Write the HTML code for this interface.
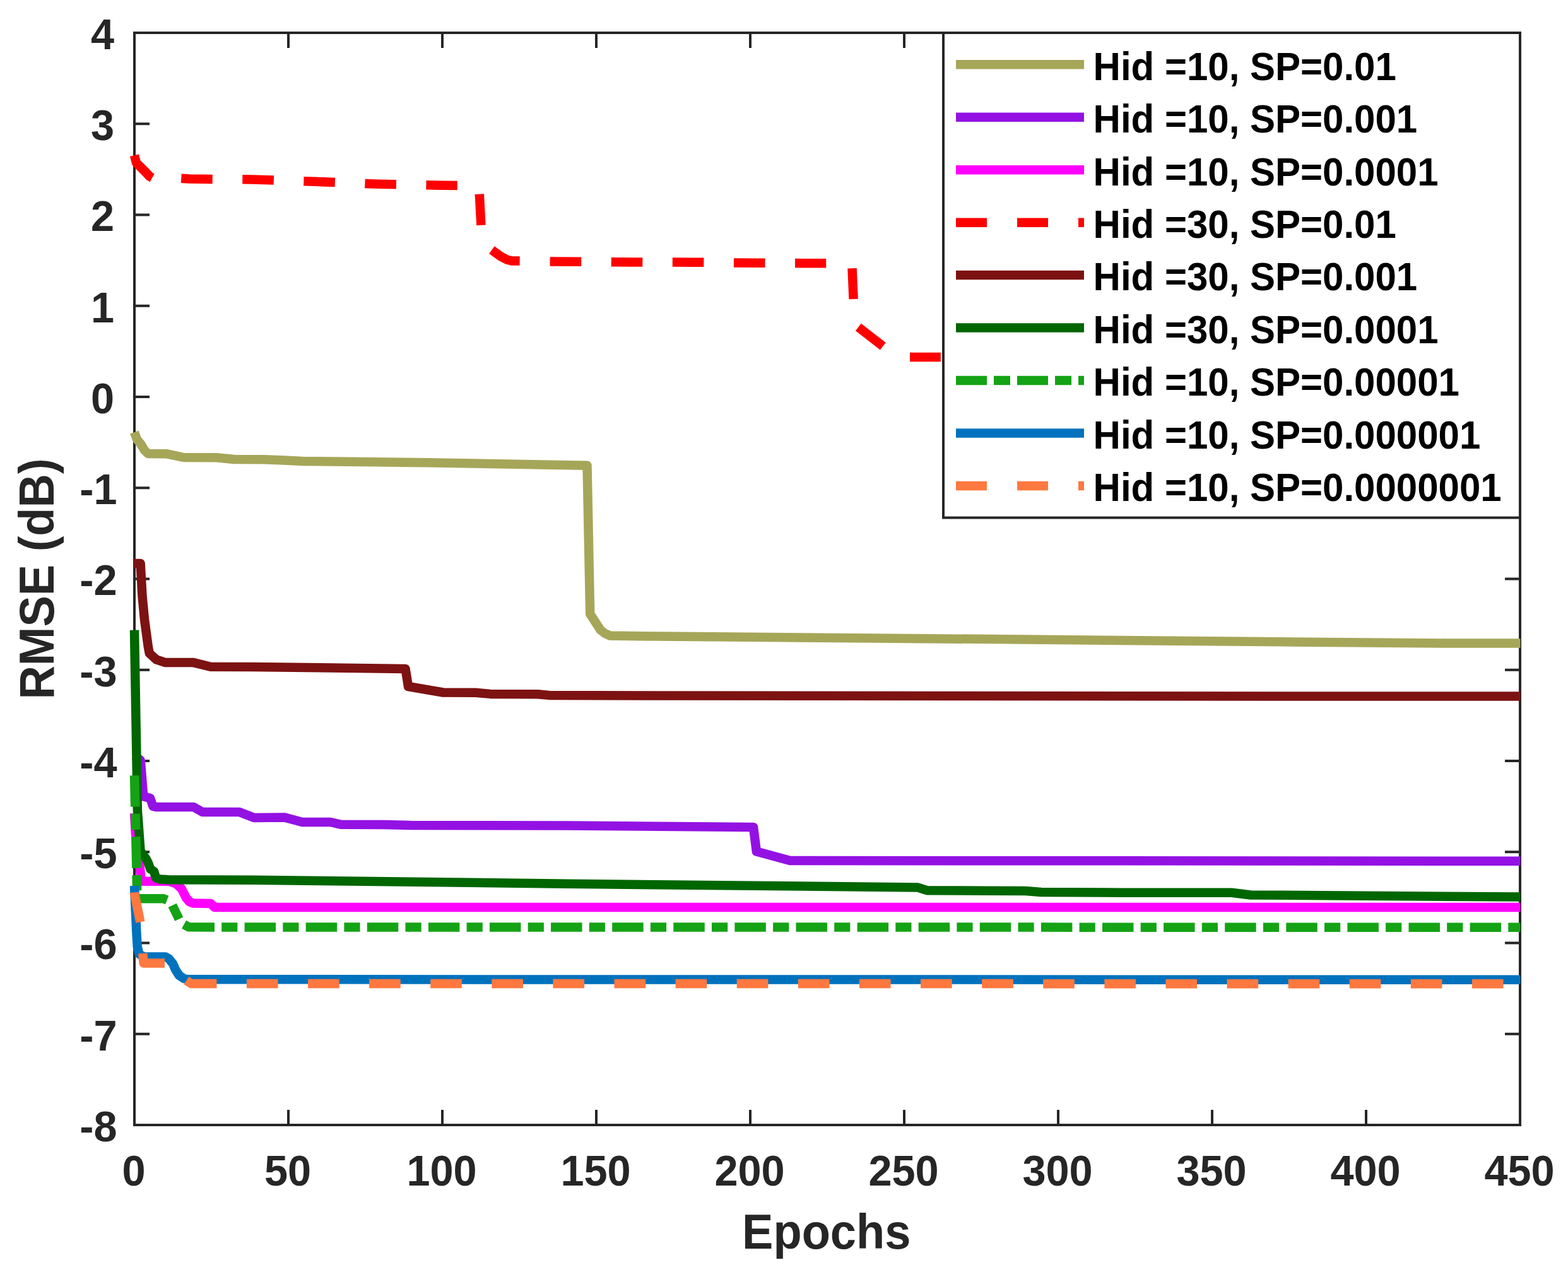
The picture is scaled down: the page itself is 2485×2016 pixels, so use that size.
<!DOCTYPE html>
<html lang="en"><head><meta charset="utf-8"><title>RMSE vs Epochs</title>
<style>html,body{margin:0;padding:0;background:#fff}svg{display:block}text{font-family:"Liberation Sans",sans-serif;font-weight:bold}</style></head><body>
<svg width="2485" height="2016" viewBox="0 0 2485 2016">
<rect x="0" y="0" width="2485" height="2016" fill="#fff"/>
<g fill="none" stroke="#262626" stroke-width="4" stroke-linecap="butt" stroke-linejoin="miter">
<rect x="213" y="52" width="2196" height="1731"/>
<path d="M457 1783V1759M457 52V76M701 1783V1759M701 52V76M945 1783V1759M945 52V76M1189 1783V1759M1189 52V76M1433 1783V1759M1433 52V76M1677 1783V1759M1677 52V76M1921 1783V1759M1921 52V76M2165 1783V1759M2165 52V76M213 1638.75H237M2409 1638.75H2385M213 1494.5H237M2409 1494.5H2385M213 1350.25H237M2409 1350.25H2385M213 1206H237M2409 1206H2385M213 1061.75H237M2409 1061.75H2385M213 917.5H237M2409 917.5H2385M213 773.25H237M2409 773.25H2385M213 629H237M2409 629H2385M213 484.75H237M2409 484.75H2385M213 340.5H237M2409 340.5H2385M213 196.25H237M2409 196.25H2385"/>
</g>
<g fill="none" stroke-width="14.5" stroke-linejoin="round" stroke-linecap="butt">
<g stroke="#A6A659">
<path d="M212.9 685 L216.9 696.1 L223.9 704.8 L228.8 713.4 L234.4 718.9 L264.5 719.3 L291 725 L343 725.3 L371 728 L418 728.3 L450 729.5 L480 731 L680 733.3 L930.5 737.7 L935.2 973 L951.5 998.2 L958 1003.5 L966.3 1007.4 L1000 1008 L1500 1012.4 L2050 1017.4 L2290 1019.4 L2409.5 1019.5"/>
</g>
<g stroke="#9312E3">
<path d="M213 1198 L222.7 1205 L226.8 1256 L228 1262.5 L238 1265 L242.5 1278 L247 1279 L306.8 1279 L320.8 1287 L379.3 1287 L402.6 1296 L451 1295.6 L479 1303 L524 1303 L540 1306.8 L610 1307 L650 1308 L900 1308.5 L1194 1311 L1198.9 1349.5 L1252 1364 L2409.5 1364.8"/>
</g>
<g stroke="#FF00FF">
<path d="M213 1289 L214.8 1320 L218 1350 L222.3 1380 L223.8 1396.8 L268 1396.8 L278 1400 L284 1405 L288 1409 L295 1423 L300 1429 L306 1431.5 L334 1432 L340 1438 L2409.5 1438"/>
</g>
<g stroke="#FF0000">
<path d="M212.95 246.2 L216 258 L224 266 L232 274 L237 279.5 L241.2 281.9"/>
<path stroke-dasharray="49.6 47.5" d="M287.2 282.8 L300 283.6 L400 284.5 L500 287.8 L600 291.8 L700 293.7 L724.8 293.9"/>
<path d="M759.8 307.6 L762.4 356.9"/>
<path d="M779.4 396.2 L793 406 L804 411.8 L811 413.4 L823.7 413.6"/>
<path stroke-dasharray="49.6 47.5" d="M871.6 414.5 L1000 415.4 L1100 415.7 L1200 416.8 L1300 417.3 L1309.2 417.3"/>
<path d="M1350.5 425.2 L1352.6 474"/>
<path d="M1360.3 518.5 L1399.3 548.8"/>
<path d="M1442 565.9 L1490.9 565.9"/>
</g>
<g stroke="#7D1212">
<path d="M212.2 893 L222.6 893 L225.5 944.9 L229 981.8 L234.7 1024.4 L236.7 1035.3 L247.8 1045.4 L261.3 1049.9 L306.8 1050.1 L333.7 1056.8 L400 1057 L642.5 1059.9 L647 1088 L702.2 1097.5 L754 1097.8 L777 1099.9 L852 1100.2 L870 1101.9 L1020 1102.4 L1500 1103.1 L2409.5 1103.6"/>
</g>
<g stroke="#006600">
<path d="M213 998.7 L217.9 1285 L222.6 1349 L231.5 1361 L235 1368 L238.5 1377.5 L244 1381 L247 1391 L253 1393.5 L267 1394.3 L400 1394.7 L900 1400.7 L1454 1406.4 L1469 1411.2 L1560 1411.8 L1625 1412 L1650 1414 L1750 1414.6 L1952 1414.8 L1982 1418.5 L2409.5 1421.5"/>
</g>
<g stroke="#14A314">
<path d="M213 1229 L214.2 1278.6"/>
<path d="M214.4 1289.7 L215 1314.9"/>
<path d="M215.2 1326 L216.4 1375.8"/>
<path d="M216.6 1387 L217.1 1411.4"/>
<path d="M217.3 1422.9 L217.6 1424.3 L259 1424.3 L264.7 1426.5"/>
<path d="M273.2 1434.8 L283.7 1456.7"/>
<path stroke-dasharray="49.5 11.2 25.2 11.2" d="M291.6 1465.1 L298.9 1469.3 L400 1469.5 L2409.5 1469.7"/>
</g>
<g stroke="#0072BD">
<path d="M213 1404 L216.3 1477 L217.7 1500 L220.4 1512 L228 1516.4 L262.4 1516.4 L267.7 1519.5 L274.1 1527.6 L278.2 1537 L284 1546 L291.6 1551 L297 1552.3 L2409.5 1552.8"/>
</g>
<g stroke="#FF783F">
<path d="M213.1 1414.3 L213.4 1418 L222.4 1461.4"/>
<path d="M226.3 1511 L227.6 1526.5 L261 1526.5"/>
<path stroke-dasharray="49.6 47.5" d="M295.4 1553.9 L303 1559 L2409.5 1559.2"/>
</g>
</g>
<rect x="1495" y="52" width="914" height="768.5" fill="#fff" stroke="#262626" stroke-width="4"/>
<g fill="none" stroke-width="14.5">
<path stroke="#A6A659" d="M1515 102.3H1718"/>
<path stroke="#9312E3" d="M1515 185.75H1718"/>
<path stroke="#FF00FF" d="M1515 269.2H1718"/>
<path stroke="#FF0000" stroke-dasharray="49 48" d="M1515 352.65H1718"/>
<path stroke="#7D1212" d="M1515 436.1H1718"/>
<path stroke="#006600" d="M1515 519.55H1718"/>
<path stroke="#14A314" stroke-dasharray="49 11 26 11" d="M1515 603H1718"/>
<path stroke="#0072BD" d="M1515 686.45H1718"/>
<path stroke="#FF783F" stroke-dasharray="49 48" d="M1515 769.9H1718"/>
</g>
<g font-size="60px" fill="#000">
<text transform="translate(1732.6 126.6) scale(1 1.04)" xml:space="preserve">Hid =10, SP=0.01</text>
<text transform="translate(1732.6 210.05) scale(1 1.04)" xml:space="preserve">Hid =10, SP=0.001</text>
<text transform="translate(1732.6 293.5) scale(1 1.04)" xml:space="preserve">Hid =10, SP=0.0001</text>
<text transform="translate(1732.6 376.95) scale(1 1.04)" xml:space="preserve">Hid =30, SP=0.01</text>
<text transform="translate(1732.6 460.4) scale(1 1.04)" xml:space="preserve">Hid =30, SP=0.001</text>
<text transform="translate(1732.6 543.85) scale(1 1.04)" xml:space="preserve">Hid =30, SP=0.0001</text>
<text transform="translate(1732.6 627.3) scale(1 1.04)" xml:space="preserve">Hid =10, SP=0.00001</text>
<text transform="translate(1732.6 710.75) scale(1 1.04)" xml:space="preserve">Hid =10, SP=0.000001</text>
<text transform="translate(1732.6 794.2) scale(1 1.04)" xml:space="preserve">Hid =10, SP=0.0000001</text>
</g>
<g font-size="66.67px" fill="#262626">
<text transform="translate(212 1879.3) scale(1 1.03)" text-anchor="middle">0</text>
<text transform="translate(456 1879.3) scale(1 1.03)" text-anchor="middle">50</text>
<text transform="translate(700 1879.3) scale(1 1.03)" text-anchor="middle">100</text>
<text transform="translate(944 1879.3) scale(1 1.03)" text-anchor="middle">150</text>
<text transform="translate(1188 1879.3) scale(1 1.03)" text-anchor="middle">200</text>
<text transform="translate(1432 1879.3) scale(1 1.03)" text-anchor="middle">250</text>
<text transform="translate(1676 1879.3) scale(1 1.03)" text-anchor="middle">300</text>
<text transform="translate(1920 1879.3) scale(1 1.03)" text-anchor="middle">350</text>
<text transform="translate(2164 1879.3) scale(1 1.03)" text-anchor="middle">400</text>
<text transform="translate(2408 1879.3) scale(1 1.03)" text-anchor="middle">450</text>
<text transform="translate(185.5 1808.9) scale(1 1.03)" text-anchor="end">-8</text>
<text transform="translate(185.5 1664.65) scale(1 1.03)" text-anchor="end">-7</text>
<text transform="translate(185.5 1520.4) scale(1 1.03)" text-anchor="end">-6</text>
<text transform="translate(185.5 1376.15) scale(1 1.03)" text-anchor="end">-5</text>
<text transform="translate(185.5 1231.9) scale(1 1.03)" text-anchor="end">-4</text>
<text transform="translate(185.5 1087.65) scale(1 1.03)" text-anchor="end">-3</text>
<text transform="translate(185.5 943.4) scale(1 1.03)" text-anchor="end">-2</text>
<text transform="translate(185.5 799.15) scale(1 1.03)" text-anchor="end">-1</text>
<text transform="translate(181 654.9) scale(1 1.03)" text-anchor="end">0</text>
<text transform="translate(181 510.65) scale(1 1.03)" text-anchor="end">1</text>
<text transform="translate(181 366.4) scale(1 1.03)" text-anchor="end">2</text>
<text transform="translate(181 222.15) scale(1 1.03)" text-anchor="end">3</text>
<text transform="translate(181 77.9) scale(1 1.03)" text-anchor="end">4</text>
</g>
<g font-size="74px" fill="#262626">
<text transform="translate(1309.7 1979.2) scale(1 1.04)" text-anchor="middle">Epochs</text>
<text transform="translate(84.8 917.5) rotate(-90) scale(1 1.04)" text-anchor="middle">RMSE (dB)</text>
</g>
</svg></body></html>
